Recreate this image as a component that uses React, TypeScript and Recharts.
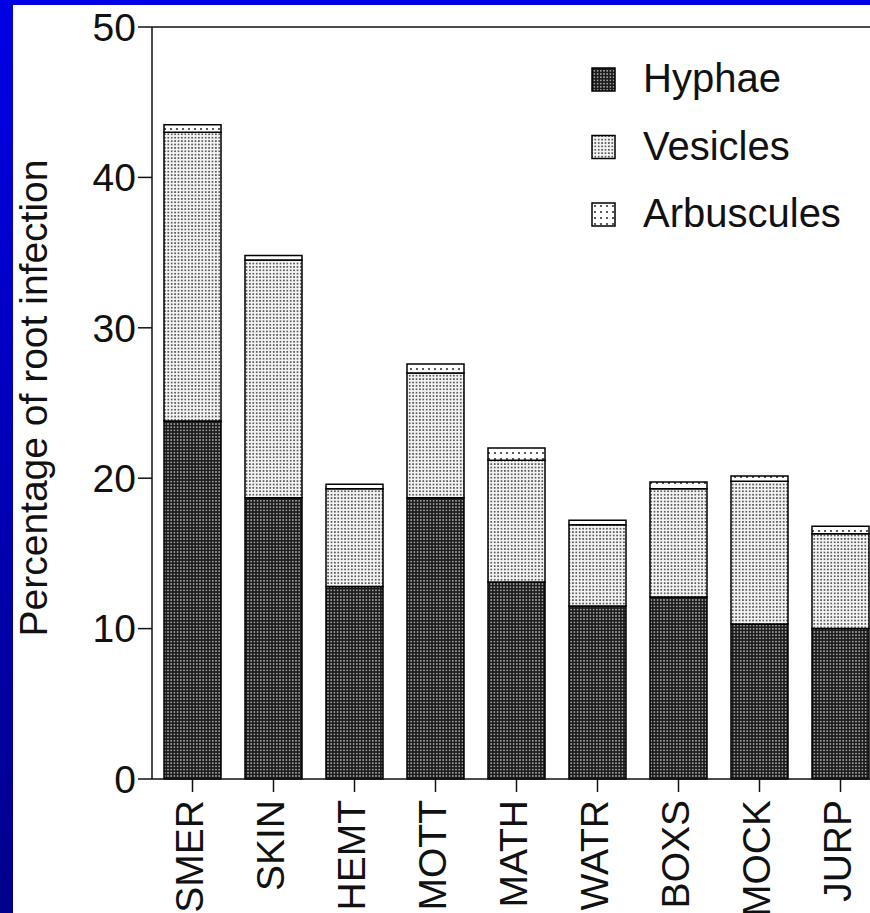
import React from 'react';
import { BarChart, Bar, XAxis, YAxis, ReferenceLine, Legend } from 'recharts';

const categories = ['SMER', 'SKIN', 'HEMT', 'MOTT', 'MATH', 'WATR', 'BOXS', 'MOCK', 'JURP'];
const hyphae = [23.8, 18.7, 12.8, 18.7, 13.1, 11.5, 12.1, 10.3, 10.0];
const vesicles = [19.2, 15.8, 6.5, 8.3, 8.1, 5.4, 7.2, 9.5, 6.3];
const arbuscules = [0.5, 0.3, 0.3, 0.6, 0.8, 0.3, 0.45, 0.35, 0.5];
const yTicks = [0, 10, 20, 30, 40, 50];
const seriesNames = ['Hyphae', 'Vesicles', 'Arbuscules'];

const data = categories.map((c, i) => ({
  name: c,
  Hyphae: hyphae[i],
  Vesicles: vesicles[i],
  Arbuscules: arbuscules[i],
}));

const FONT = '"Liberation Sans", Arial, Helvetica, sans-serif';
const patternIds: Record<string, string> = {
  Hyphae: 'pat-hyphae',
  Vesicles: 'pat-vesicles',
  Arbuscules: 'pat-arbuscules',
};

const XTick = (props: any) => {
  const { x, y, payload } = props;
  return (
    <g transform={`translate(${x},${y})`}>
      <text
        transform="rotate(-90)"
        x={-6}
        y={10}
        textAnchor="end"
        fontSize={39}
        fontFamily={FONT}
        fill="#111"
      >
        {payload.value}
      </text>
    </g>
  );
};

const YTitle = (props: any) => {
  const vb = props.viewBox || {};
  const cy = (vb.y ?? 27) + (vb.height ?? 752) / 2 - 5;
  return (
    <text
      x={47}
      y={cy}
      transform={`rotate(-90, 47, ${cy})`}
      textAnchor="middle"
      fontSize={39}
      fontFamily={FONT}
      fill="#111"
    >
      Percentage of root infection
    </text>
  );
};

const renderLegend = () => (
  <svg width={290} height={200} style={{ overflow: 'visible', display: 'block' }}>
    {seriesNames.map((n, i) => (
      <g key={n} transform={`translate(0, ${i * 67.5})`}>
        <rect x={12} y={18} width={23} height={23} fill={`url(#${patternIds[n]})`} stroke="#000" strokeWidth={1.5} />
        <text x={63} y={42} fontSize={40} fontFamily={FONT} fill="#111">
          {n}
        </text>
      </g>
    ))}
  </svg>
);

export default function App() {
  return (
    <div
      style={{
        position: 'absolute',
        left: 0,
        top: 0,
        width: 870,
        height: 913,
        overflow: 'hidden',
        background: 'linear-gradient(to bottom, #0000e6, #00008c)',
      }}
    >
      <svg width={0} height={0} style={{ position: 'absolute' }}>
        <defs>
          <pattern id="pat-hyphae" width={3.2} height={3.2} patternUnits="userSpaceOnUse">
            <rect width={3.2} height={3.2} fill="#1c1c1c" />
            <circle cx={1.6} cy={1.6} r={0.75} fill="#d8d8d8" />
          </pattern>
          <pattern id="pat-vesicles" width={3.4} height={3.4} patternUnits="userSpaceOnUse">
            <rect width={3.4} height={3.4} fill="#f4f4f4" />
            <circle cx={1.7} cy={1.7} r={0.95} fill="#3a3a3a" />
          </pattern>
          <pattern id="pat-arbuscules" width={6} height={6} patternUnits="userSpaceOnUse">
            <rect width={6} height={6} fill="#ffffff" />
            <circle cx={3} cy={3} r={1.1} fill="#333" />
          </pattern>
        </defs>
      </svg>
      <div
        style={{
          position: 'absolute',
          left: 13,
          top: 5,
          width: 857,
          height: 908,
          background: '#ffffff',
        }}
      />
      <div style={{ position: 'absolute', left: 0, top: 0 }}>
        <BarChart
          width={890}
          height={913}
          data={data}
          margin={{ top: 27, right: 9, bottom: 14, left: 12 }}
          barCategoryGap={0}
        >
          <YAxis
            type="number"
            domain={[0, 50]}
            ticks={yTicks}
            width={140}
            tickSize={14}
            tick={{ fontSize: 39, fontFamily: FONT, fill: '#111' }}
            axisLine={{ stroke: '#111', strokeWidth: 1.5 }}
            tickLine={{ stroke: '#111', strokeWidth: 1.5 }}
            label={<YTitle />}
          />
          <XAxis
            dataKey="name"
            height={120}
            tickSize={13}
            interval={0}
            tick={<XTick />}
            axisLine={{ stroke: '#111', strokeWidth: 1.5 }}
            tickLine={{ stroke: '#111', strokeWidth: 1.5 }}
          />
          <ReferenceLine y={50} stroke="#111" strokeWidth={1.5} />
          <Legend
            layout="vertical"
            align="center"
            verticalAlign="middle"
            content={renderLegend}
            wrapperStyle={{ position: 'absolute', left: 580, top: 50, width: 290, height: 200 }}
          />
          {seriesNames.map((n) => (
            <Bar
              key={n}
              dataKey={n}
              stackId="a"
              barSize={57}
              fill={`url(#${patternIds[n]})`}
              stroke="#000"
              strokeWidth={1.5}
              isAnimationActive={false}
            />
          ))}
        </BarChart>
      </div>
    </div>
  );
}
